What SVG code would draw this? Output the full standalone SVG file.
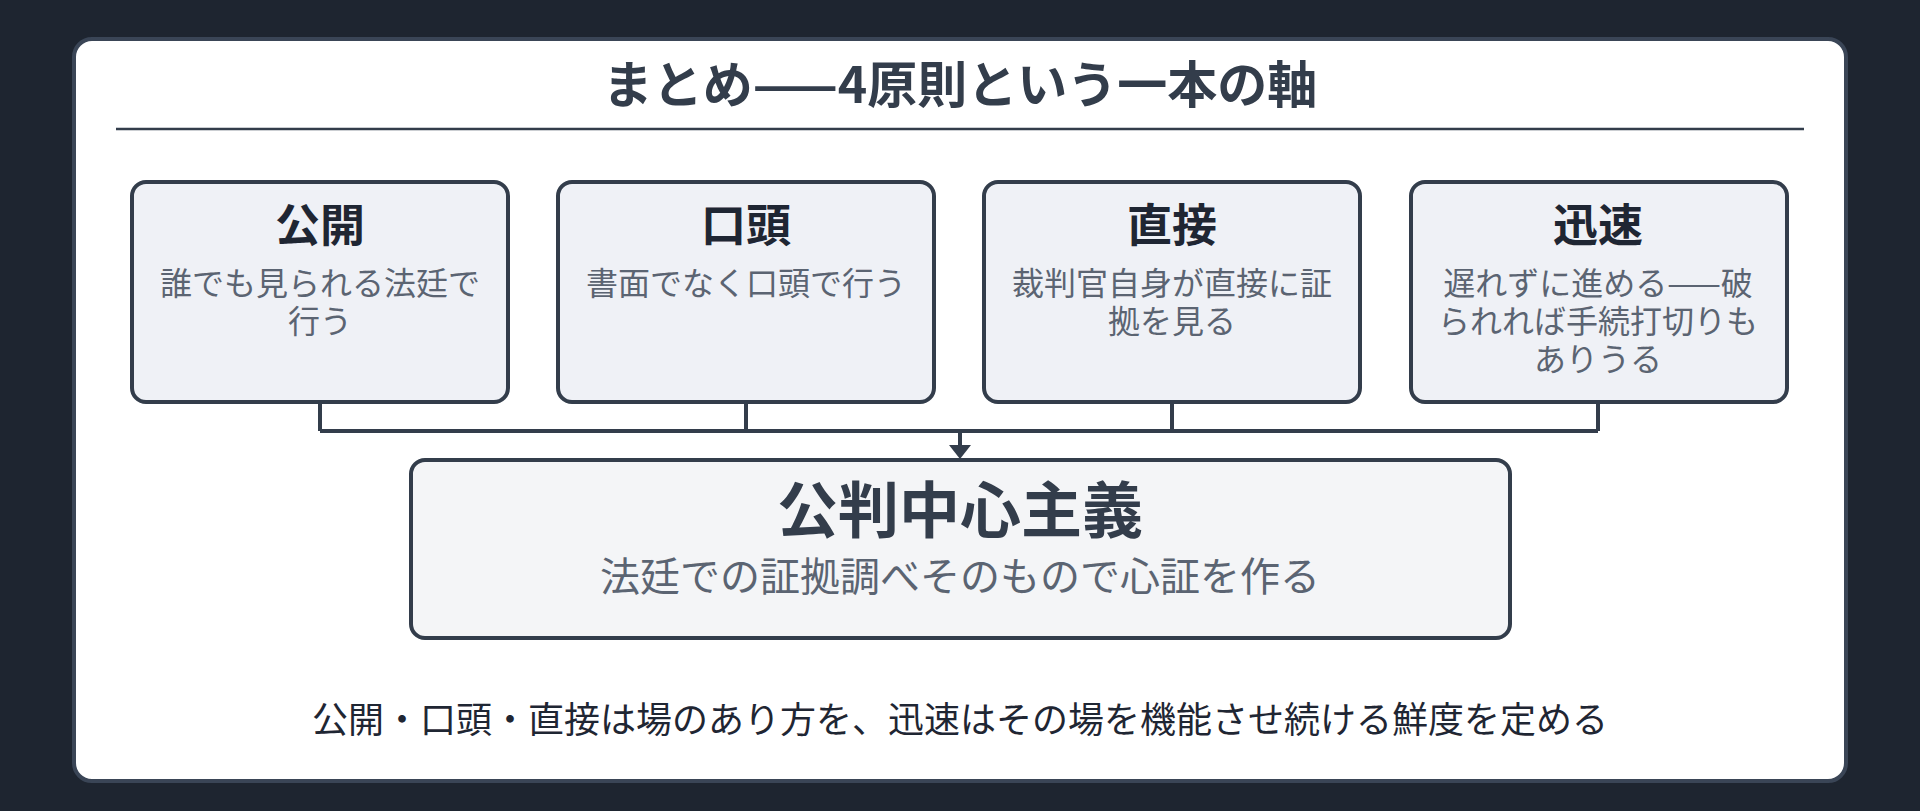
<svg xmlns="http://www.w3.org/2000/svg" width="1920" height="811" viewBox="0 0 1920 811">
<style>
text{font-family:"Noto Sans CJK JP","Noto Sans",sans-serif;text-anchor:middle}
.box{fill:#eff1f6;stroke:#333d4b;stroke-width:4}
.t{font-size:45px;font-weight:bold;fill:#1f2633}
.s{font-size:32px;fill:#5b6472}
.c{fill:none;stroke:#333d4b;stroke-width:4}
</style>
<rect width="1920" height="811" fill="#1e2530"/>
<rect x="74" y="39" width="1772" height="742" rx="18" fill="#fff" stroke="#3a4556" stroke-width="4"/>
<text x="960" y="103" style="font-size:50px;font-weight:bold;fill:#333d4b">まとめ——4原則という一本の軸</text>
<line x1="116" y1="129" x2="1804" y2="129" stroke="#333d4b" stroke-width="2.5"/>
<g id="connectors">
<path class="c" d="M320,402V431M746,402V431M1172,402V431M1598,402V431M320,431H1598"/>
<path class="c" d="M960,431V446"/>
<path d="M949,445L971,445L960,459z" fill="#333d4b"/>
</g>
<g id="n1"><rect class="box" x="132" y="182" width="376" height="220" rx="14"/><text class="t" x="320" y="242">公開</text><text class="s" x="320" y="295">誰でも見られる法廷で</text><text class="s" x="320" y="333">行う</text></g>
<g id="n2"><rect class="box" x="558" y="182" width="376" height="220" rx="14"/><text class="t" x="746" y="242">口頭</text><text class="s" x="746" y="295">書面でなく口頭で行う</text></g>
<g id="n3"><rect class="box" x="984" y="182" width="376" height="220" rx="14"/><text class="t" x="1172" y="242">直接</text><text class="s" x="1172" y="295">裁判官自身が直接に証</text><text class="s" x="1172" y="333">拠を見る</text></g>
<g id="n4"><rect class="box" x="1411" y="182" width="376" height="220" rx="14"/><text class="t" x="1598" y="242">迅速</text><text class="s" x="1598" y="295">遅れずに進める——破</text><text class="s" x="1598" y="333">られれば手続打切りも</text><text class="s" x="1598" y="371">ありうる</text></g>
<g id="main"><rect x="411" y="460" width="1099" height="178" rx="14" fill="#f4f5f7" stroke="#333d4b" stroke-width="4"/><text x="960" y="533" style="font-size:61px;font-weight:bold;fill:#333d4b">公判中心主義</text><text x="960" y="591" style="font-size:40px;fill:#5b6472">法廷での証拠調べそのもので心証を作る</text></g>
<text x="960" y="733" style="font-size:36px;fill:#1f2633">公開・口頭・直接は場のあり方を、迅速はその場を機能させ続ける鮮度を定める</text>
</svg>
